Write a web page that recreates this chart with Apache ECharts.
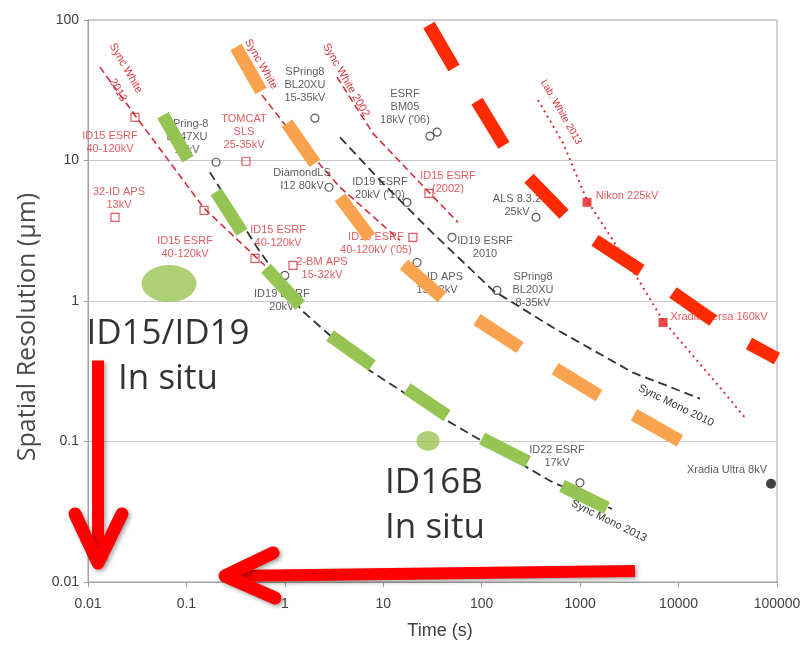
<!DOCTYPE html>
<html><head><meta charset="utf-8">
<script src="https://cdn.jsdelivr.net/npm/echarts@6/dist/echarts.min.js"></script>
<style>html,body{margin:0;padding:0;background:#fff}#c{width:807px;height:647px}</style>
</head><body><div id="c"></div>
<script>
// ---- tick labels ----
const xTickLabels = ['0.01','0.1','1','10','100','1000','10000','100000'];
const yTickLabels = ['0.01','0.1','1','10','100'];

// ---- thick dashed trend bands (each dash: [start, end] as [time s, resolution um]) ----
const greenDashes = [
  [[0.0578,21.0],[0.1038,10.2]],
  [[0.2,6.0],[0.367,3.08]],
  [[0.643,1.71],[1.43,0.93]],
  [[2.87,0.568],[7.68,0.347]],
  [[17.4,0.238],[44.4,0.153]],
  [[100.7,0.105],[295,0.0718]],
  [[655,0.0483],[1875,0.0337]]
];
const orangeDashes = [
  [[0.319,64.2],[0.573,31.2]],
  [[1.05,18.4],[2.02,9.55]],
  [[3.63,5.47],[7.33,2.84]],
  [[16.2,1.82],[39.5,1.06]],
  [[89.5,0.738],[245,0.466]],
  [[556,0.330],[1554,0.212]],
  [[3524,0.155],[10330,0.101]]
];
const redDashes = [
  [[29.1,92.1],[52.3,45.5]],
  [[89.5,26.5],[168,12.8]],
  [[302,7.47],[686,4.14]],
  [[1416,2.70],[4150,1.65]],
  [[8770,1.15],[22390,0.726]],
  [[51900,0.498],[100000,0.389]]
];

// ---- thin trend lines ----
const syncWhite2013 = [[0.0132,46.2],[0.030,21.0],[0.151,4.57],[0.498,2.08],[0.628,1.79]];
const syncWhite = [[0.586,29.2],[0.957,18.7],[3.63,6.45],[14.8,2.70]];
const syncWhite2002 = [[3.39,39.2],[7.86,15.6],[29.1,5.94],[57.4,3.63]];
const labWhite2013 = [[373,26.9],[670,13.3],[1175,5.21],[3784,1.47],[6950,0.726],[26360,0.242],[48400,0.145]];
const syncMono2010 = [[3.63,14.6],[9.26,7.23],[32.0,3.03],[130,1.19],[530,0.647],[3443,0.309],[16510,0.202]];
const syncMono2013 = [[0.173,8.25],[0.521,2.41],[1.49,0.855],[7.33,0.319],[44.4,0.141],[494,0.0525],[2108,0.0331]];

// ---- facilities: [time, resolution, label] ----
const whiteBeamPoints = [
  [0.030, 20.3, 'ID15 ESRF\n40-120kV'],
  [0.0188, 3.94, '32-ID APS\n13kV'],
  [0.151, 4.42, 'ID15 ESRF\n40-120kV'],
  [0.498, 2.01, 'ID15 ESRF\n40-120kV'],
  [0.403, 9.88, 'TOMCAT\nSLS\n25-35kV'],
  [1.21, 1.79, '2-BM APS\n15-32kV'],
  [29.1, 5.84, 'ID15 ESRF\n(2002)'],
  [20.0, 2.84, "ID15 ESRF\n40-120kV ('05)"]
];
const labWhitePoints = [
  [1175, 5.04, 'Nikon 225kV'],
  [6950, 0.703, 'Xradia Versa 160kV']
];
const monoPoints = [
  [0.2, 9.72, 'SPring-8\nBL47XU\n10kV'],
  [2.02, 20.0, 'SPring8\nBL20XU\n15-35kV'],
  [2.81, 6.45, 'DiamondLS\nI12 80kV'],
  [29.8, 14.9, "ESRF\nBM05\n18kV ('06)"],
  [35.2, 15.9, ''],
  [17.4, 5.04, "ID19 ESRF\n20kV ('10)"],
  [49.9, 2.84, 'ID19 ESRF\n2010'],
  [22.0, 1.88, '32-ID APS\n15-32kV'],
  [1.0, 1.52, 'ID19 ESRF\n20kV'],
  [143, 1.19, 'SPring8\nBL20XU\n8-35kV'],
  [356, 3.94, 'ALS 8.3.2\n25kV'],
  [996, 0.0508, 'ID22 ESRF\n17kV']
];
const labMonoPoints = [[86900, 0.05, 'Xradia Ultra 8kV']];
const inSituPoints = [
  [0.0665, 1.33, 'ID15/ID19\nIn situ'],
  [28.5, 0.101, 'ID16B\nIn situ']
];

// ---- annotation arrows (data coordinates) ----
const arrowDownShaft = [[0.01264,0.377],[0.01264,0.0145]];
const arrowDownHead = [[0.00738,0.0305],[0.01264,0.01365],[0.02214,0.0305]];
const arrowLeftShaft = [[3606,0.01198],[0.27,0.01104]];
const arrowLeftHead = [[0.759,0.0161],[0.2466,0.01104],[0.794,0.00769]];

// ================= styles =================
const RED_TXT = '#d8343c';
const DARK_TXT = '#333333';
const SANS = '"Liberation Sans", Arial, sans-serif';
const whiteOffsets = [[-25,25],[4,-19],[-19,37],[23,-22],[-2,-29],[29,3],[19,-11],[-37,6]];
const labWhiteOffsets = [[40,-6],[56,-6]];
const monoOffsets = [[-29,-25],[-10,-33],[-27,-8],[-25,-29],[0,0],[-27,-14],[33,10],[20,21],[-3,25],[36,0],[-19,-12],[-23,-26]];
const labMonoOffsets = [[-44,-14]];
const inSituSizes = [[55,37],[23,20]];
const inSituLabel = [
  {offset:[-1,73], align:'center'},
  {offset:[-43,65], align:'left'}
];

const chart = echarts.init(document.getElementById('c'), null, {renderer:'canvas'});

function dashSeries(segs, color, width) {
  return {type:'lines', coordinateSystem:'cartesian2d', z:6, silent:true, polyline:false,
    lineStyle:{color:color, width:width, opacity:1, cap:'butt', curveness:0},
    data: segs.map(s => ({coords:s}))};
}
function thinLine(data, color, dash, width) {
  return {type:'line', data:data, showSymbol:false, symbol:'none', z:3, silent:true,
    lineStyle:{color:color, width:width, type:dash}};
}
function markerSeries(rows, offsets, symbol, size, itemStyle, color, fontSize) {
  return {type:'scatter', symbol:symbol, symbolSize:size, z:4, silent:true, itemStyle:itemStyle,
    data: rows.map((r,i) => ({value:[r[0],r[1]], name:r[2], label:{offset:offsets[i]}})),
    label:{show:true, position:'inside', formatter:'{b}', color:color, fontFamily:SANS,
      fontSize:fontSize, lineHeight:13, textBorderWidth:0, textBorderColor:'transparent'}};
}

const option = {
  animation:false,
  backgroundColor:'#ffffff',
  grid:{left:88, right:30, top:20, bottom:65, show:true, borderColor:'#a0a0a0', borderWidth:1},
  xAxis:{type:'log', logBase:10, min:0.01, max:100000, splitNumber:7,
    name:'Time (s)', nameLocation:'middle', nameGap:40,
    nameTextStyle:{fontFamily:SANS, fontSize:18, color:'#404040', padding:[0,0,0,15]},
    axisLine:{show:true, lineStyle:{color:'#a0a0a0'}},
    axisTick:{show:true, length:5, lineStyle:{color:'#a0a0a0'}},
    minorTick:{show:false},
    splitLine:{show:false},
    axisLabel:{fontFamily:SANS, fontSize:14, color:'#404040', margin:15,
      formatter: v => xTickLabels[Math.round(Math.log10(v)) + 2]}},
  yAxis:{type:'log', logBase:10, min:0.01, max:100, splitNumber:4,
    name:'Spatial Resolution (\u00b5m)', nameLocation:'middle', nameGap:46,
    nameTextStyle:{fontFamily:'"Open Sans", sans-serif', fontSize:25, color:'#4a4a4a', padding:[0,52,0,0]},
    axisLine:{show:true, lineStyle:{color:'#a0a0a0'}},
    axisTick:{show:true, length:4, lineStyle:{color:'#a0a0a0'}},
    splitLine:{show:true, lineStyle:{color:'#c8c8c8', width:1}},
    axisLabel:{fontFamily:SANS, fontSize:14, color:'#404040', margin:9,
      formatter: v => yTickLabels[Math.round(Math.log10(v)) + 2]}},
  series:[
    thinLine(syncWhite2013, '#d62e37', [7,4], 1.6),
    thinLine(syncWhite, '#d62e37', [7,4], 1.6),
    thinLine(syncWhite2002, '#d62e37', [7,4], 1.6),
    thinLine(labWhite2013, '#d62e37', [2,4], 2),
    thinLine(syncMono2010, '#333333', [9,5], 1.8),
    thinLine(syncMono2013, '#333333', [9,5], 1.8),
    markerSeries(whiteBeamPoints, whiteOffsets, 'rect', 8,
      {color:'rgba(255,255,255,0)', borderColor:'#d62e37', borderWidth:1.2}, RED_TXT, 11),
    markerSeries(labWhitePoints, labWhiteOffsets, 'rect', 9,
      {color:'#e3201e'}, RED_TXT, 11),
    markerSeries(monoPoints, monoOffsets, 'circle', 8,
      {color:'rgba(255,255,255,0)', borderColor:'#333333', borderWidth:1.2}, DARK_TXT, 11),
    markerSeries(labMonoPoints, labMonoOffsets, 'circle', 10,
      {color:'#111111'}, DARK_TXT, 11),
    {type:'scatter', z:4, silent:true, symbol:'circle',
      itemStyle:{color:'#98c455'},
      data: inSituPoints.map((r,i) => ({value:[r[0],r[1]], name:r[2], symbolSize:inSituSizes[i],
        label:{offset:inSituLabel[i].offset, align:inSituLabel[i].align}})),
      label:{show:true, position:'inside', formatter:'{b}', color:'#000000',
        fontFamily:'"Open Sans", sans-serif', fontSize:35, lineHeight:45,
        textBorderWidth:0, textBorderColor:'transparent'}},
    dashSeries(greenDashes, '#95c453', 13),
    dashSeries(orangeDashes, '#f9a34f', 13),
    dashSeries(redDashes, '#ff2a00', 13),
    {type:'lines', coordinateSystem:'cartesian2d', polyline:true, z:10, clip:false, silent:true,
      lineStyle:{color:'#ff0000', width:12, opacity:1, join:'round',
        shadowBlur:4, shadowColor:'rgba(0,0,0,0.35)', shadowOffsetX:2, shadowOffsetY:2},
      data:[
        {coords:arrowDownShaft, lineStyle:{cap:'butt'}},
        {coords:arrowDownHead, lineStyle:{cap:'round', width:13}},
        {coords:arrowLeftShaft, lineStyle:{cap:'butt'}},
        {coords:arrowLeftHead, lineStyle:{cap:'round', width:13}}
      ]}
  ]
};
chart.setOption(option);

// rotated labels of trend lines, anchored on line end points
const rotLabels = [
  {anchor:syncWhite2013[0], text:'Sync White', off:[26,1], rot:-60, color:RED_TXT, size:11},
  {anchor:syncWhite2013[0], text:'2013', off:[18,23], rot:-60, color:RED_TXT, size:11},
  {anchor:syncWhite[0], text:'Sync White', off:[-1,-31], rot:-60, color:RED_TXT, size:11},
  {anchor:syncWhite2002[0], text:'Sync White 2002', off:[9,3], rot:-60, color:RED_TXT, size:11},
  {anchor:labWhite2013[0], text:'Lab. White 2013', off:[23,12], rot:-60, color:RED_TXT, size:10},
  {anchor:syncMono2010[syncMono2010.length-1], text:'Sync Mono 2010', off:[-24,7], rot:-26, color:DARK_TXT, size:11},
  {anchor:syncMono2013[syncMono2013.length-1], text:'Sync Mono 2013', off:[-3,12], rot:-26, color:DARK_TXT, size:11}
];
const graphics = rotLabels.map(l => {
  const p = chart.convertToPixel({gridIndex:0}, l.anchor);
  return {type:'text', x:p[0]+l.off[0], y:p[1]+l.off[1], rotation:l.rot*Math.PI/180, z:3, silent:true,
    style:{text:l.text, fill:l.color, fontSize:l.size, fontFamily:SANS,
      align:'center', verticalAlign:'middle', textAlign:'center', textVerticalAlign:'middle'}};
});
chart.setOption({graphic:graphics});
</script></body></html>
